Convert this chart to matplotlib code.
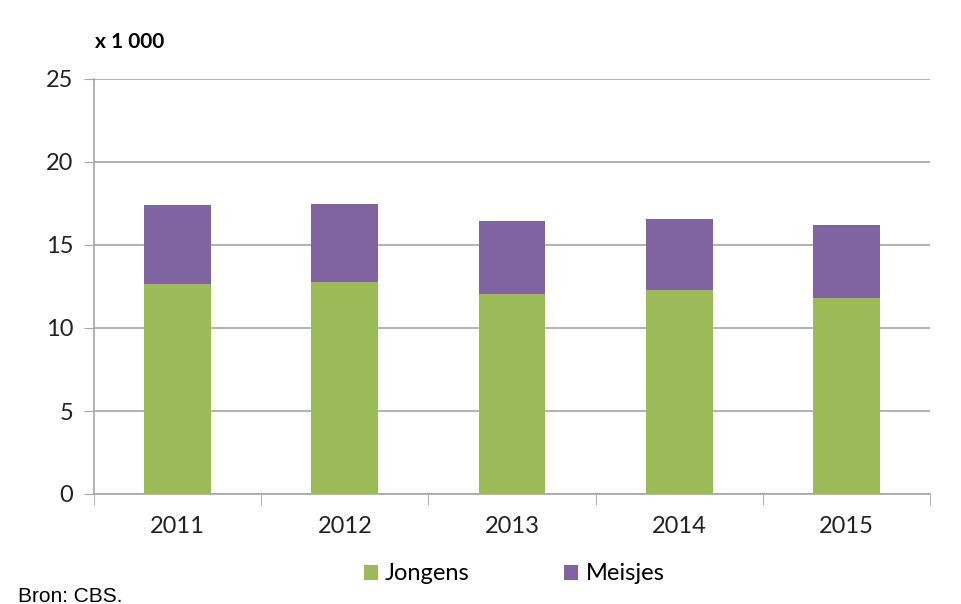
import numpy as np
import matplotlib.pyplot as plt

years = ['2011', '2012', '2013', '2014', '2015']
jongens = [12.67, 12.75, 12.07, 12.29, 11.83]
meisjes = [4.72, 4.70, 4.39, 4.26, 4.36]

green = '#9BBB59'
purple = '#8064A2'
grid_col = '#A6A6A6'

plt.rcParams['font.family'] = ['Lato', 'DejaVu Sans']

fig = plt.figure(figsize=(9.62, 6.04), dpi=100)
ax = fig.add_axes([94 / 962, 1 - 494 / 604, (930 - 94) / 962, (494 - 79) / 604])

x = np.arange(len(years))
ax.bar(x, jongens, width=0.4, color=green, label='Jongens', zorder=3)
ax.bar(x, meisjes, width=0.4, bottom=jongens, color=purple, label='Meisjes', zorder=3)

ax.set_xlim(-0.5, len(years) - 0.5)
ax.set_ylim(0, 25)
ax.set_yticks(np.arange(0, 26, 5))
ax.tick_params(axis='y', labelsize=17, length=7, pad=8, labelcolor='#222222', color=grid_col)
ax.set_xticks(x)
ax.set_xticklabels(years, fontsize=17, color='#222222')
ax.tick_params(axis='x', length=0, pad=16)
ax.set_xticks(np.arange(-0.5, len(years), 1), minor=True)
ax.tick_params(axis='x', which='minor', length=8, color=grid_col)

ax.yaxis.grid(True, color=grid_col, linewidth=1.2, zorder=0)
for s in ['top', 'right']:
    ax.spines[s].set_visible(False)
for s in ['left', 'bottom']:
    ax.spines[s].set_color(grid_col)
    ax.spines[s].set_linewidth(1.2)

fig.text(95 / 962, 1 - 42 / 604, 'x 1 000', fontsize=15, fontweight='bold', va='center', ha='left')

ax.legend(loc='center', bbox_to_anchor=(514 / 962, 1 - 574 / 604), bbox_transform=fig.transFigure,
          ncol=2, frameon=False, fontsize=17, handlelength=0.6, handleheight=0.6,
          handletextpad=0.3, columnspacing=4.0)

fig.text(18 / 962, 1 - 596 / 604, 'Bron: CBS.', fontsize=15, family='Liberation Sans', va='center', ha='left')

fig.savefig('out.png', dpi=100)
